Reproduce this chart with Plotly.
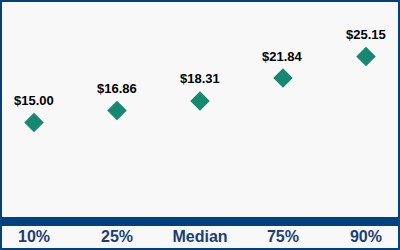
import plotly.graph_objects as go

categories = ["10%", "25%", "Median", "75%", "90%"]
values = [15.00, 16.86, 18.31, 21.84, 25.15]
value_labels = ["$15.00", "$16.86", "$18.31", "$21.84", "$25.15"]

W, H = 400, 250
PLOT_H = 217
BLUE = "#00427f"
TEAL = "#178870"
BG = "#f8f8f8"

def py(p):
    return (PLOT_H - p) / PLOT_H

fig = go.Figure()
fig.add_trace(go.Scatter(
    x=list(range(len(categories))), y=values, mode="markers",
    marker=dict(symbol="diamond", size=15, color=TEAL, line=dict(width=0)),
    hoverinfo="skip", showlegend=False,
))
for i, (v, t) in enumerate(zip(values, value_labels)):
    fig.add_annotation(x=i, y=v, text=t, showarrow=False, yshift=22,
                       font=dict(family="Liberation Sans, Arial", size=13, color="#000000"))

fig.add_shape(type="rect", xref="paper", yref="paper", x0=0, x1=1, y0=py(226), y1=py(217),
              fillcolor=BLUE, line=dict(width=0), layer="above")
fig.add_shape(type="rect", xref="paper", yref="paper", x0=1/W, x1=(W-1)/W, y0=py(H-1), y1=py(1),
              fillcolor="rgba(0,0,0,0)", line=dict(width=2, color=BLUE), layer="above")

fig.update_layout(
    width=W, height=H,
    margin=dict(l=0, r=0, t=0, b=H-PLOT_H, pad=0),
    paper_bgcolor=BG, plot_bgcolor=BG,
    xaxis=dict(range=[-0.41, 4.41], tickmode="array", tickvals=list(range(len(categories))),
               ticktext=categories, showgrid=False, zeroline=False, showline=False, ticks="",
               tickfont=dict(family="Liberation Sans, Arial", size=16, color="#1b3f74", weight="bold"),
               ticklabelstandoff=8),
    yaxis=dict(range=[15 - (PLOT_H - 122.5) / 6.5, 15 + 122.5 / 6.5], showgrid=False, zeroline=False,
               showticklabels=False, showline=False, ticks=""),
    font=dict(family="Liberation Sans, Arial"),
)
for a in fig.layout.annotations:
    a.font.weight = "bold"

fig.write_html("out.html")
